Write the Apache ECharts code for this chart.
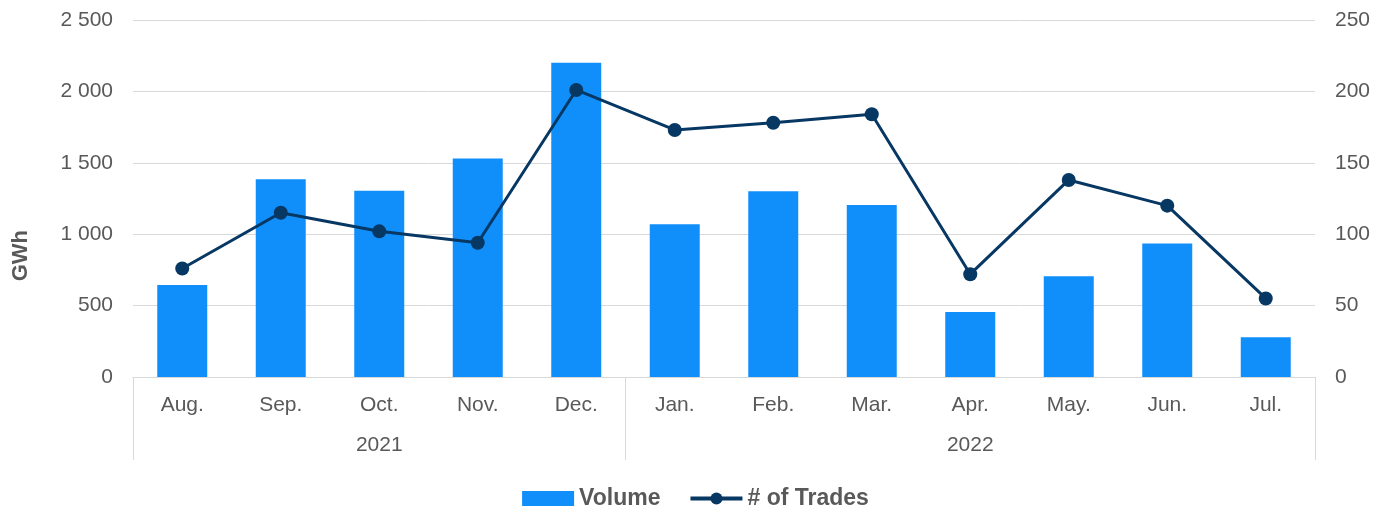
<!DOCTYPE html>
<html>
<head>
<meta charset="utf-8">
<script src="https://cdn.jsdelivr.net/npm/echarts@6/dist/echarts.min.js"></script>
<style>
  html, body { margin: 0; padding: 0; background: #fff; }
  #chart { width: 1391px; height: 511px; }
</style>
</head>
<body>
<div id="chart"></div>
<script>
// data
const months = ['Aug.', 'Sep.', 'Oct.', 'Nov.', 'Dec.', 'Jan.', 'Feb.', 'Mar.', 'Apr.', 'May.', 'Jun.', 'Jul.']
const yearOfMonth = ['2021', '2021', '2021', '2021', '2021', '2022', '2022', '2022', '2022', '2022', '2022', '2022']
const volume = [645, 1385, 1305, 1530, 2200, 1070, 1300, 1205, 455, 705, 935, 278]
const trades = [76, 115, 102, 94, 201, 173, 178, 184, 72, 138, 120, 55]

const textColor = '#595959'
const gridColor = '#d9d9d9'
const barColor = '#108ffb'
const lineColor = '#073763'
const font = "'Liberation Sans', Arial, sans-serif"

// where each year group starts, and which month sits in its middle
const groupStarts = []
const groupMiddles = {}
yearOfMonth.forEach((y, i) => {
  if (i === 0 || yearOfMonth[i - 1] !== y) groupStarts.push(i)
})
groupStarts.forEach((s, k) => {
  const end = k + 1 < groupStarts.length ? groupStarts[k + 1] : yearOfMonth.length
  groupMiddles[Math.floor((s + end - 1) / 2)] = yearOfMonth[s]
})

const chart = echarts.init(document.getElementById('chart'))

chart.setOption({
  animation: false,
  textStyle: { fontFamily: font },
  grid: { left: 133, right: 76, top: 20, bottom: 134 },
  legend: {
    top: 482,
    left: 'center',
    itemWidth: 52,
    itemHeight: 15,
    itemGap: 28,
    textStyle: { fontSize: 23, fontWeight: 'bold', color: textColor, fontFamily: font },
    data: [
      { name: 'Volume', icon: 'rect' },
      { name: '# of Trades', lineStyle: { width: 4 } },
    ],
  },
  graphic: [
    {
      type: 'text',
      left: 10,
      top: 230,
      rotation: Math.PI / 2,
      style: {
        text: 'GWh',
        fontSize: 22,
        fontWeight: 'bold',
        fill: textColor,
        fontFamily: font,
      },
    },
  ],
  xAxis: [
    {
      type: 'category',
      data: months,
      axisLine: { lineStyle: { color: gridColor, width: 1 } },
      axisTick: {
        show: true,
        length: 83,
        lineStyle: { color: gridColor },
        interval: (i) => groupStarts.includes(i),
      },
      axisLabel: { color: textColor, fontSize: 21, margin: 18, interval: 0 },
    },
    {
      type: 'category',
      data: months,
      position: 'bottom',
      axisLine: { show: false },
      axisTick: { show: false },
      axisLabel: {
        color: textColor,
        fontSize: 21,
        margin: 58,
        interval: 0,
        formatter: (v, i) => groupMiddles[i] || '',
      },
    },
  ],
  yAxis: [
    {
      type: 'value',
      min: 0,
      max: 2500,
      interval: 500,
      axisLine: { show: false },
      axisTick: { show: false },
      splitLine: { lineStyle: { color: gridColor, width: 1 } },
      axisLabel: {
        color: textColor,
        fontSize: 21,
        margin: 20,
        formatter: (v) => String(v).replace(/\B(?=(\d{3})+(?!\d))/g, ' '),
      },
    },
    {
      type: 'value',
      min: 0,
      max: 250,
      interval: 50,
      position: 'right',
      axisLine: { show: false },
      axisTick: { show: false },
      splitLine: { show: false },
      axisLabel: { color: textColor, fontSize: 21, margin: 20 },
    },
  ],
  series: [
    {
      name: 'Volume',
      type: 'bar',
      data: volume,
      barWidth: 50,
      itemStyle: { color: barColor },
    },
    {
      name: '# of Trades',
      type: 'line',
      yAxisIndex: 1,
      data: trades,
      symbol: 'circle',
      symbolSize: 14,
      lineStyle: { color: lineColor, width: 3 },
      itemStyle: { color: lineColor },
    },
  ],
})
</script>
</body>
</html>
